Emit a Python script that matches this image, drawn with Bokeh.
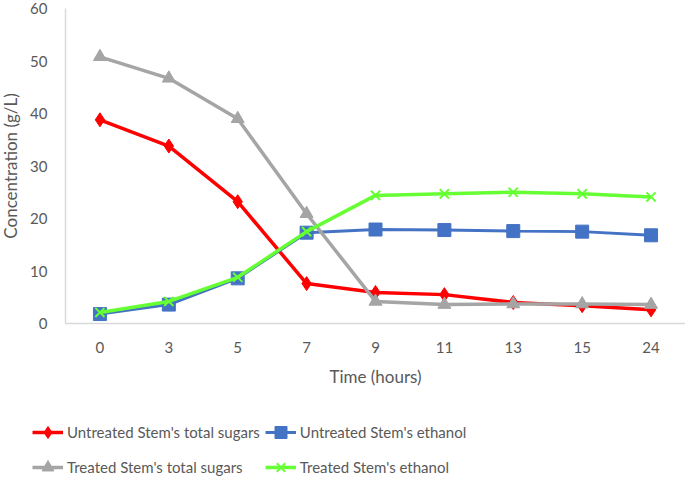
from bokeh.plotting import figure
from bokeh.models import Legend, LegendItem, Range1d
from bokeh.embed import file_html
from bokeh.resources import INLINE

times = ["0", "3", "5", "7", "9", "11", "13", "15", "24"]
untreated_sugars = [38.8, 33.8, 23.2, 7.6, 5.9, 5.5, 4.0, 3.4, 2.6]
untreated_ethanol = [1.8, 3.6, 8.6, 17.3, 17.9, 17.8, 17.6, 17.5, 16.8]
treated_sugars = [50.8, 46.7, 39.0, 20.9, 4.2, 3.6, 3.7, 3.7, 3.6]
treated_ethanol = [2.1, 4.2, 8.8, 17.5, 24.4, 24.7, 25.0, 24.7, 24.1]
y_ticks = [0, 10, 20, 30, 40, 50, 60]

xs = list(range(len(times)))  # category positions

FONT = "Lato"
TXT = "#595959"

# frame covers the whole canvas; axes are placed at fixed data locations
W, H = 685, 479
left_px, right_px, top_px, zero_px = 65, 685, 8, 323
ppx = (right_px - left_px) / len(times)
ppy = (zero_px - top_px) / 60.0
x0 = -0.5 - left_px / ppx
x1 = len(times) - 0.5 + (W - right_px) / ppx
y1 = 60 + top_px / ppy
y0 = -(H - zero_px) / ppy

p = figure(width=W, height=H, x_range=Range1d(x0, x1), y_range=Range1d(y0, y1),
           output_backend="svg", toolbar_location=None,
           min_border_left=0, min_border_right=0, min_border_top=0, min_border_bottom=0)
p.outline_line_color = None
p.xgrid.visible = False
p.ygrid.visible = False

for ax in (p.xaxis[0], p.yaxis[0]):
    ax.axis_line_color = "#D9D9D9"
    ax.axis_line_width = 1.5
    ax.major_tick_line_color = None
    ax.minor_tick_line_color = None
    ax.major_tick_out = 0
    ax.major_tick_in = 0
    ax.major_label_text_color = TXT
    ax.major_label_text_font = FONT
    ax.major_label_text_font_size = "15px"
    ax.axis_label_text_color = TXT
    ax.axis_label_text_font = FONT
    ax.axis_label_text_font_size = "17px"
    ax.axis_label_text_font_style = "normal"

p.yaxis.ticker = y_ticks
p.yaxis.bounds = (0, 60)
p.yaxis.fixed_location = -0.5
p.yaxis.axis_label = "Concentration (g/L)"
p.yaxis.major_label_standoff = 18
p.yaxis.axis_label_standoff = 6

p.xaxis.ticker = xs
p.xaxis.major_label_overrides = {i: t for i, t in zip(xs, times)}
p.xaxis.bounds = (-0.5, len(times) - 0.5)
p.xaxis.fixed_location = 0
p.xaxis.axis_label = "Time (hours)"
p.xaxis.major_label_standoff = 18
p.xaxis.axis_label_standoff = 10

r1 = p.line(xs, untreated_sugars, line_color="#FF0000", line_width=3.5)
m1 = p.scatter(xs, untreated_sugars, marker="diamond", size=14, fill_color="#FF0000", line_color="#FF0000")
r2 = p.line(xs, untreated_ethanol, line_color="#4472C4", line_width=3)
m2 = p.scatter(xs, untreated_ethanol, marker="square", size=13, fill_color="#4472C4", line_color="#4472C4")
r3 = p.line(xs, treated_sugars, line_color="#A5A5A5", line_width=3.5)
m3 = p.scatter(xs, treated_sugars, marker="triangle", size=13, fill_color="#A5A5A5", line_color="#A5A5A5")
r4 = p.line(xs, treated_ethanol, line_color="#66FF33", line_width=3.5)
m4 = p.scatter(xs, treated_ethanol, marker="x", size=13, line_color="#66FF33", line_width=2)

# column-major order: col 1 = sugars, col 2 = ethanol
legend = Legend(items=[
    LegendItem(label="Untreated Stem's total sugars", renderers=[r1, m1]),
    LegendItem(label="Treated Stem's total sugars", renderers=[r3, m3]),
    LegendItem(label="Untreated Stem's ethanol", renderers=[r2, m2]),
    LegendItem(label="Treated Stem's ethanol", renderers=[r4, m4]),
], ncols=2, location=(32, -3))
legend.label_text_font = FONT
legend.label_text_font_size = "15px"
legend.label_text_color = TXT
legend.glyph_width = 31
legend.glyph_height = 30
legend.label_height = 30
legend.label_standoff = 4
legend.spacing = 5
legend.padding = 0
legend.margin = 0
legend.border_line_color = None
legend.background_fill_alpha = 0
p.add_layout(legend)

open("out.html", "w").write(file_html(p, INLINE))
